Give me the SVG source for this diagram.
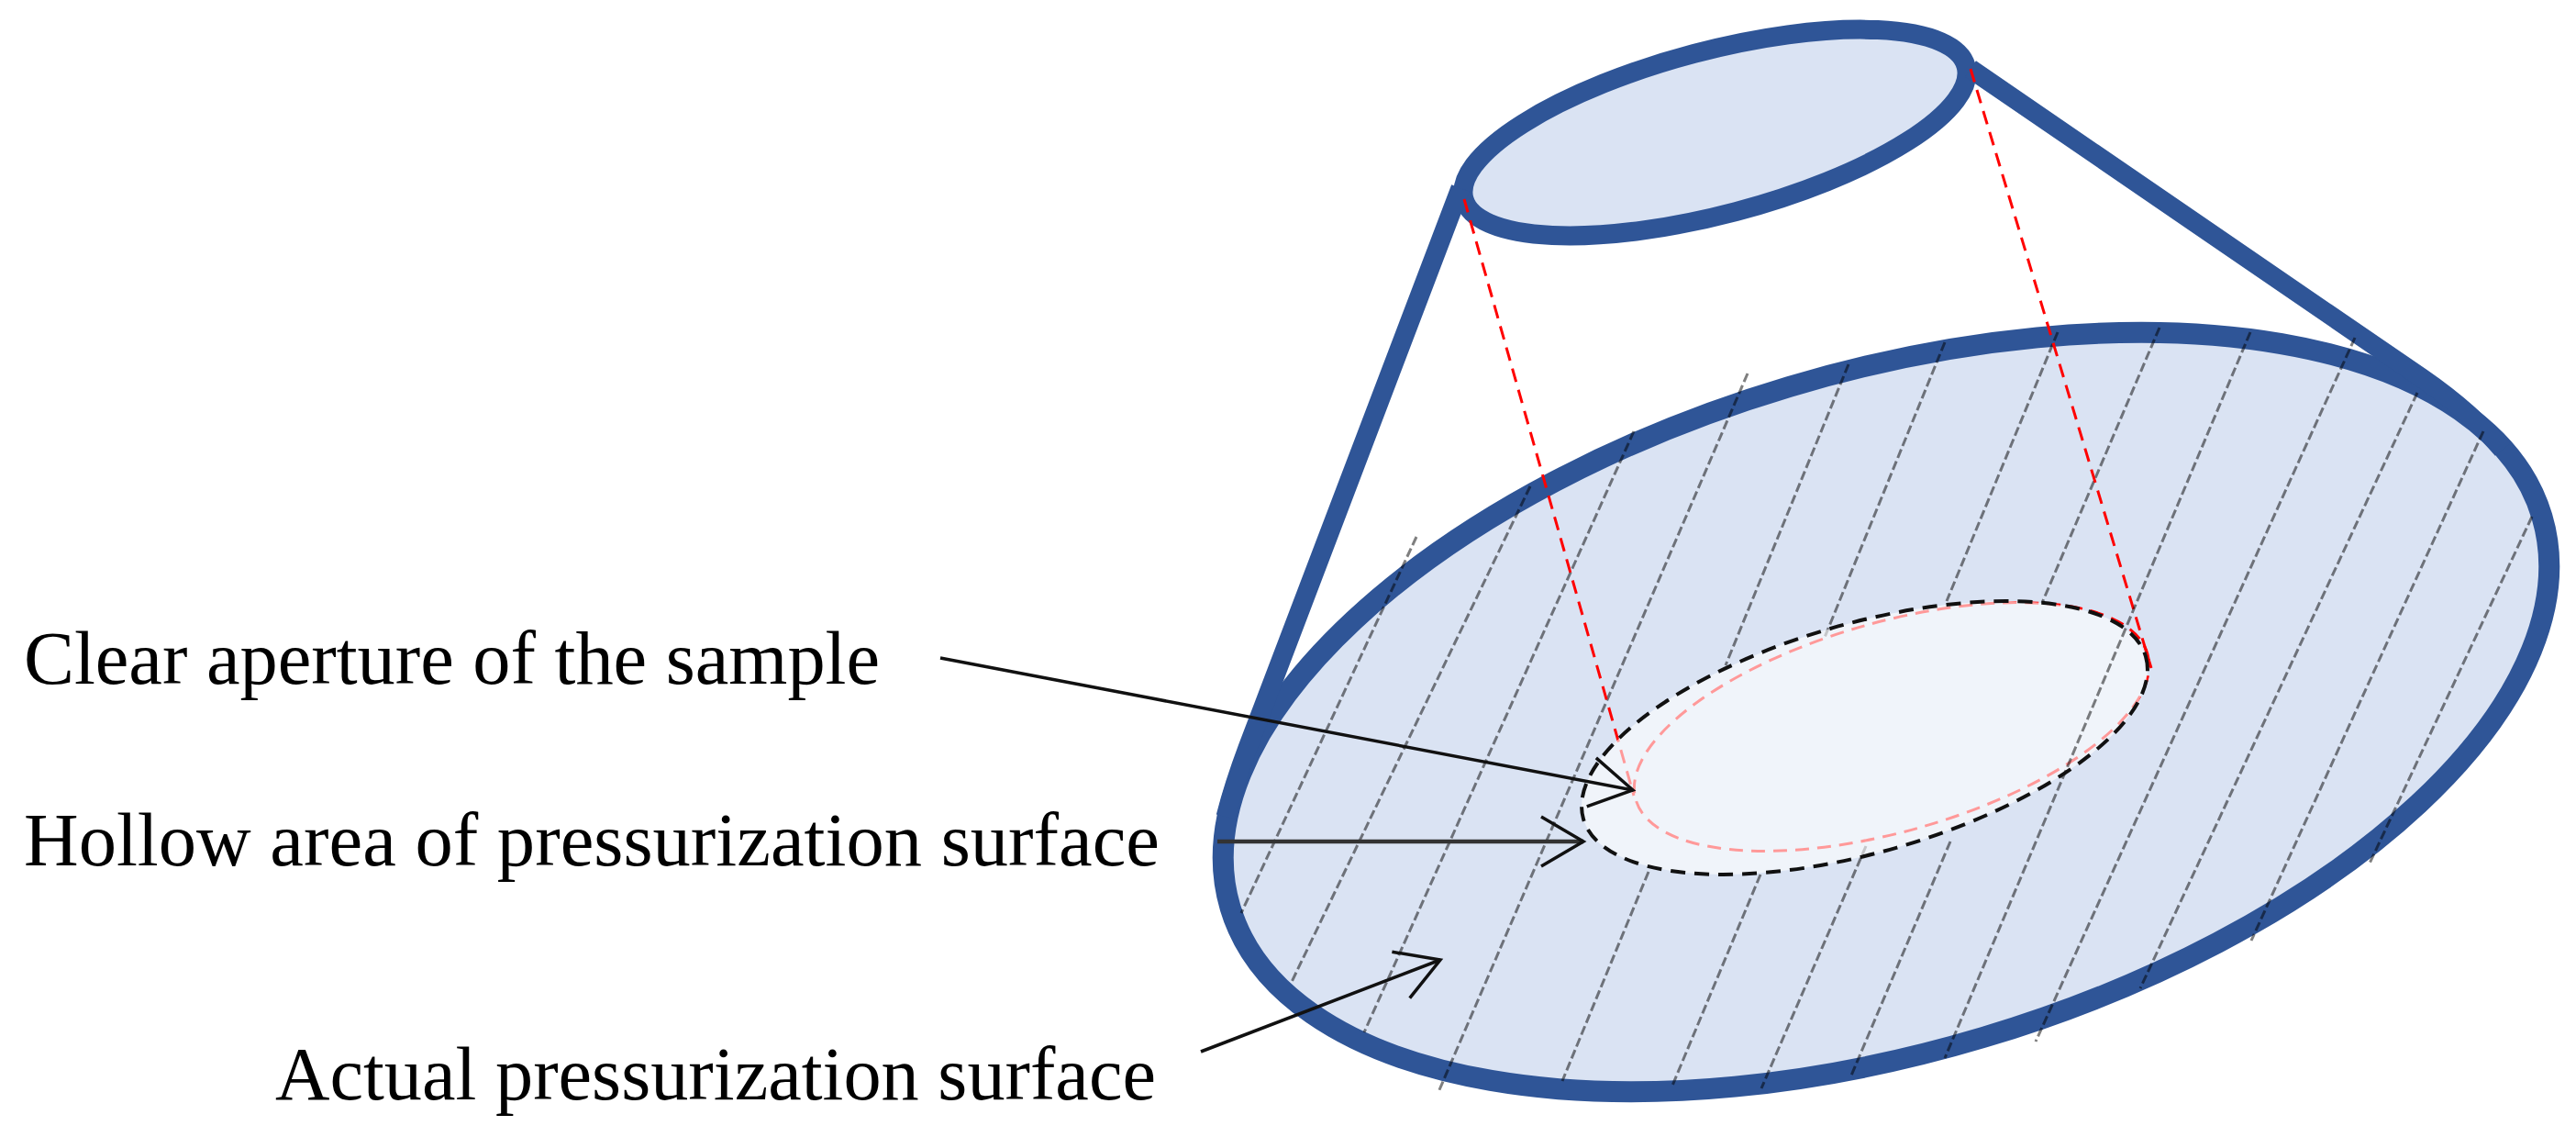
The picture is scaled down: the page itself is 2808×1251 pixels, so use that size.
<svg xmlns="http://www.w3.org/2000/svg" width="2808" height="1251" viewBox="0 0 2808 1251">
<style>
.body{fill:#DAE3F3;stroke:#2F5597;stroke-width:23}
.cone{fill:none;stroke:#2F5597;stroke-width:21}
.hatch{fill:none;stroke:#000;stroke-opacity:.5;stroke-width:3;stroke-dasharray:10 4}
.red{fill:none;stroke:#FF0000;stroke-width:3;stroke-dasharray:15 9}
.ptr{fill:none;stroke:#111;stroke-width:3.5;marker-end:url(#open)}
.label{font-family:"Liberation Serif","Times New Roman",serif;font-size:82px;fill:#000}
</style>
<defs>
<marker id="open" markerUnits="userSpaceOnUse" viewBox="-50 -30 54 60" markerWidth="54" markerHeight="60" refX="0" refY="0" orient="auto">
<path d="M-46,-27 L0,0 L-46,27" fill="none" stroke="#111" stroke-width="3.5"/>
</marker>
</defs>
<rect width="2808" height="1251" fill="#fff"/>
<g id="cone-body">
<ellipse id="large-end" class="body" cx="2056" cy="776" rx="746" ry="370" transform="rotate(-16.6 2056 776)"/>
<ellipse id="small-end" class="body" style="stroke-width:21" cx="1869.5" cy="144.5" rx="283" ry="89" transform="rotate(-14.8 1869.5 144.5)"/>
<path class="cone" d="M1592,205 L1360,815 Q1345,855 1336,890"/>
<path class="cone" d="M2148,75 L2640,412 Q2695,450 2728,490"/>
</g>
<g id="hatching">
<path class="hatch" d="M1544,585 L1353,995"/>
<path class="hatch" d="M1668,530 L1407,1072"/>
<path class="hatch" d="M1781,470 L1487,1125"/>
<path class="hatch" d="M1905,407 L1568,1190"/>
<path class="hatch" d="M2015,397 L1881,725"/>
<path class="hatch" d="M1797,950 L1703,1178"/>
<path class="hatch" d="M2120,373 L1988,697"/>
<path class="hatch" d="M1919,953 L1823,1183"/>
<path class="hatch" d="M2243,362 L2122,655"/>
<path class="hatch" d="M2034,922 L1920,1186"/>
<path class="hatch" d="M2354,357 L2226,657"/>
<path class="hatch" d="M2126,917 L2018,1172"/>
<path class="hatch" d="M2567,368 L2219,1135"/>
<path class="hatch" d="M2635,428 L2333,1077"/>
<path class="hatch" d="M2707,470 L2454,1025"/>
<path class="hatch" d="M2760,563 L2582,943"/>
</g>
<g id="projection">
<path class="red" d="M1596,217 L1781,867"/>
<path class="red" d="M2148,75 L2345,728"/>
<ellipse id="clear-aperture" class="red" stroke-dasharray="14 12" cx="2062" cy="792" rx="290" ry="114" transform="rotate(-15.9 2062 792)"/>
</g>
<g id="hollow-area">
<ellipse cx="2032.5" cy="804" rx="319" ry="124.7" fill="#fff" fill-opacity=".6" transform="rotate(-16.1 2032.5 804)"/>
<path class="hatch" d="M2453,362 L2120,1153"/>
<ellipse cx="2032.5" cy="804" rx="319" ry="124.7" fill="none" stroke="#111" stroke-width="4" stroke-dasharray="16 10" transform="rotate(-16.1 2032.5 804)"/>
</g>
<g id="connectors">
<path class="ptr" d="M1025,717 L1780,861"/>
<path class="ptr" d="M1327,917 L1726,917" style="stroke-width:4.5;stroke:#333"/>
<path class="ptr" d="M1309,1146 L1570,1046"/>
</g>
<g id="labels">
<text id="label-clear" class="label" x="26" y="745" textLength="933" lengthAdjust="spacingAndGlyphs">Clear aperture of the sample</text>
<text id="label-hollow" class="label" x="26" y="943" textLength="1238" lengthAdjust="spacingAndGlyphs">Hollow area of pressurization surface</text>
<text id="label-actual" class="label" x="300" y="1198" textLength="960" lengthAdjust="spacingAndGlyphs">Actual pressurization surface</text>
</g>
</svg>
